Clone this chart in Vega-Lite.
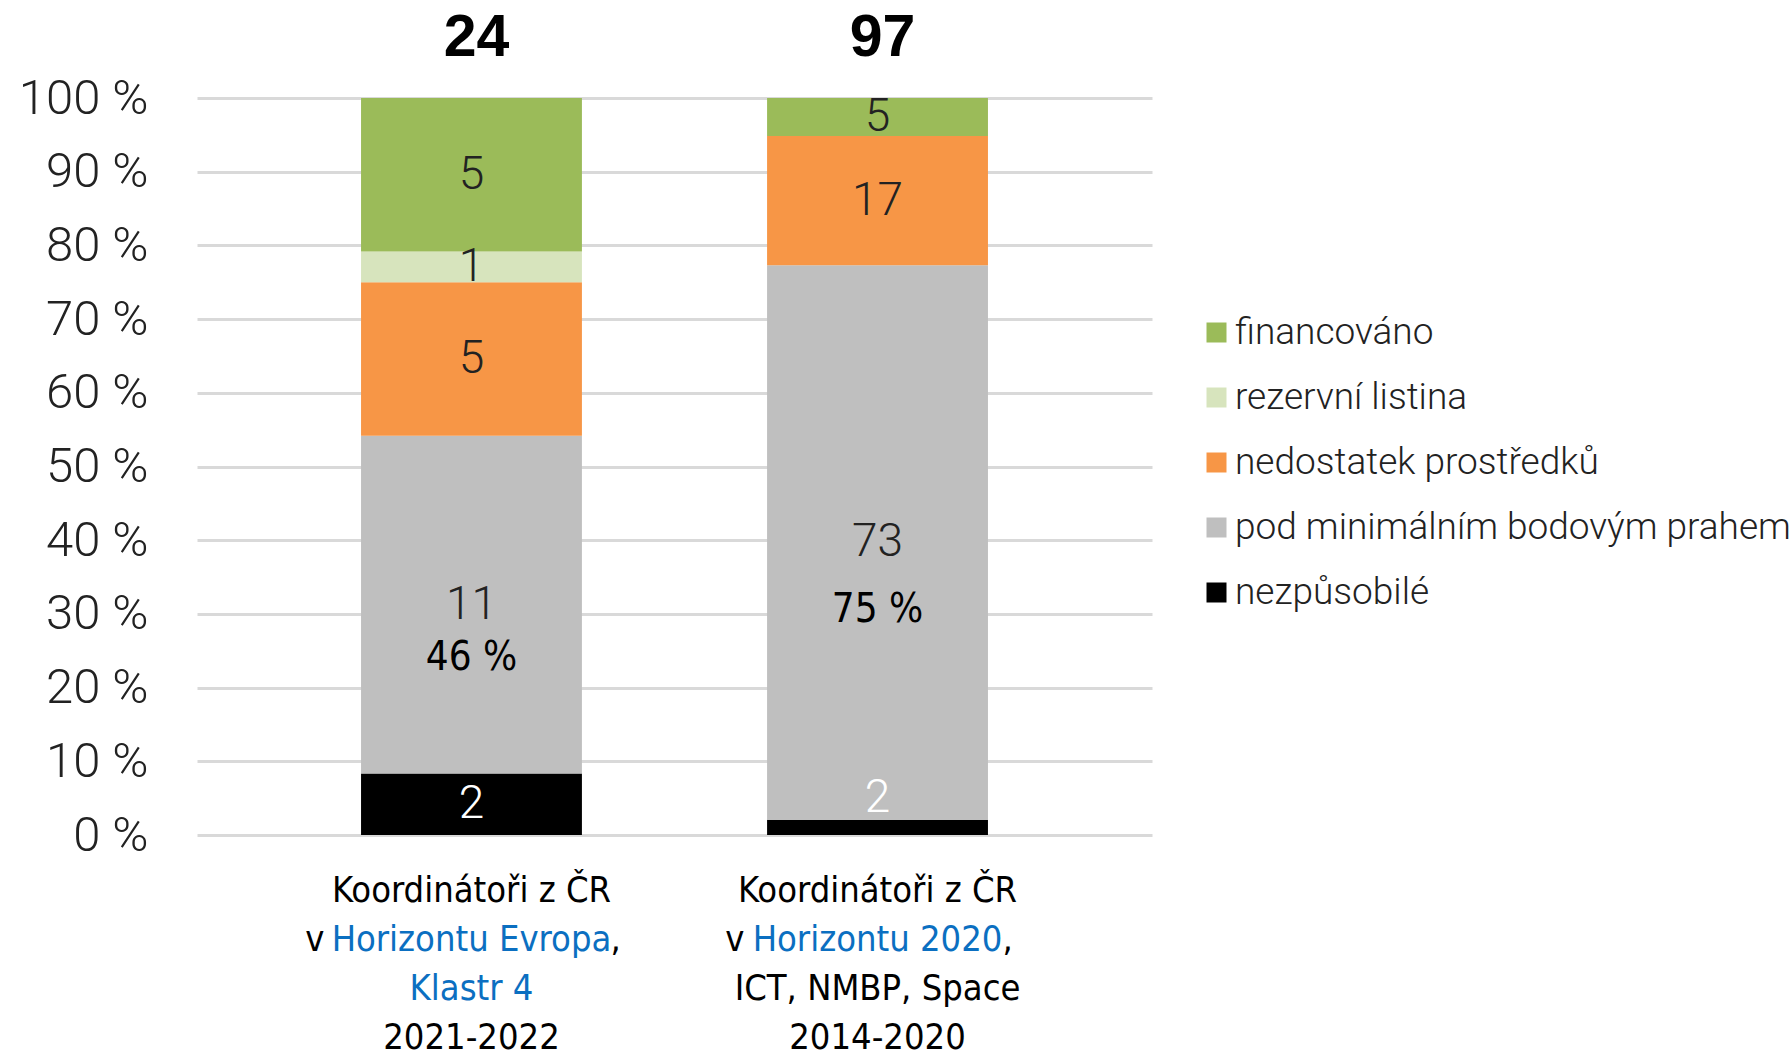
{
  "$schema": "https://vega.github.io/schema/vega-lite/v6.json",
  "background": "white",
  "padding": {"left": 18, "top": 9, "right": 0, "bottom": 0},
  "spacing": 6,
  "config": {"view": {"stroke": null}, "font": "Roboto"},
  "datasets": {
    "stav": [
      {"program": "Horizont Evropa, Klastr 4", "stav": "nezpůsobilé", "poradi": 1, "n": 2, "podil": ""},
      {"program": "Horizont Evropa, Klastr 4", "stav": "pod minimálním bodovým prahem", "poradi": 2, "n": 11, "podil": "46 %"},
      {"program": "Horizont Evropa, Klastr 4", "stav": "nedostatek prostředků", "poradi": 3, "n": 5, "podil": ""},
      {"program": "Horizont Evropa, Klastr 4", "stav": "rezervní listina", "poradi": 4, "n": 1, "podil": ""},
      {"program": "Horizont Evropa, Klastr 4", "stav": "financováno", "poradi": 5, "n": 5, "podil": ""},
      {"program": "Horizont 2020, ICT, NMBP, Space", "stav": "nezpůsobilé", "poradi": 1, "n": 2, "podil": ""},
      {"program": "Horizont 2020, ICT, NMBP, Space", "stav": "pod minimálním bodovým prahem", "poradi": 2, "n": 73, "podil": "75 %"},
      {"program": "Horizont 2020, ICT, NMBP, Space", "stav": "nedostatek prostředků", "poradi": 3, "n": 17, "podil": ""},
      {"program": "Horizont 2020, ICT, NMBP, Space", "stav": "financováno", "poradi": 5, "n": 5, "podil": ""}
    ],
    "popisky": [
      {"program": "Horizont Evropa, Klastr 4", "radek": 1, "cast": "stred", "modre": false, "text": "Koordinátoři z ČR"},
      {"program": "Horizont Evropa, Klastr 4", "radek": 2, "cast": "pred", "modre": false, "text": "v"},
      {"program": "Horizont Evropa, Klastr 4", "radek": 2, "cast": "stred", "modre": true, "text": "Horizontu Evropa"},
      {"program": "Horizont Evropa, Klastr 4", "radek": 2, "cast": "po", "modre": false, "text": ","},
      {"program": "Horizont Evropa, Klastr 4", "radek": 3, "cast": "stred", "modre": true, "text": "Klastr 4"},
      {"program": "Horizont Evropa, Klastr 4", "radek": 4, "cast": "stred", "modre": false, "text": "2021-2022"},
      {"program": "Horizont 2020, ICT, NMBP, Space", "radek": 1, "cast": "stred", "modre": false, "text": "Koordinátoři z ČR"},
      {"program": "Horizont 2020, ICT, NMBP, Space", "radek": 2, "cast": "pred", "modre": false, "text": "v"},
      {"program": "Horizont 2020, ICT, NMBP, Space", "radek": 2, "cast": "stred", "modre": true, "text": "Horizontu 2020"},
      {"program": "Horizont 2020, ICT, NMBP, Space", "radek": 2, "cast": "po", "modre": false, "text": ","},
      {"program": "Horizont 2020, ICT, NMBP, Space", "radek": 3, "cast": "stred", "modre": false, "text": "ICT, NMBP, Space"},
      {"program": "Horizont 2020, ICT, NMBP, Space", "radek": 4, "cast": "stred", "modre": false, "text": "2014-2020"}
    ]
  },
  "vconcat": [
    {
      "width": 955,
      "height": 737,
      "data": {"name": "stav"},
      "encoding": {
        "x": {"field": "program", "type": "nominal", "sort": null, "axis": null,
              "scale": {"type": "band", "paddingInner": 0.456, "paddingOuter": 0.404}}
      },
      "layer": [
        {
          "mark": {"type": "bar"},
          "encoding": {
            "y": {"field": "n", "type": "quantitative", "stack": "normalize",
                  "scale": {"domain": [0, 1], "nice": false},
                  "axis": {"title": null, "values": [0, 0.1, 0.2, 0.3, 0.4, 0.5, 0.6, 0.7, 0.8, 0.9, 1],
                           "labelExpr": "round(datum.value*100) + ' %'", "domain": false, "ticks": false,
                           "labelPadding": 49, "labelFont": "Roboto", "labelFontWeight": 300, "labelFontSize": 49,
                           "labelColor": "#222222", "gridColor": "#d9d9d9", "gridWidth": 3}},
            "color": {"field": "stav", "type": "nominal",
                      "scale": {"domain": ["financováno", "rezervní listina", "nedostatek prostředků", "pod minimálním bodovým prahem", "nezpůsobilé"],
                                "range": ["#9bbb59", "#d7e4bd", "#f79646", "#bfbfbf", "#000000"]},
                      "legend": {"orient": "none", "legendX": 1001, "legendY": 216, "title": null, "symbolType": "square",
                                 "symbolSize": 400, "symbolStrokeWidth": 0, "labelFont": "Roboto", "labelFontWeight": 300,
                                 "labelFontSize": 37, "labelColor": "#222222", "rowPadding": 27, "labelOffset": 0, "labelLimit": 800, "padding": 0}},
            "order": {"field": "poradi", "type": "quantitative"}
          }
        },
        {
          "mark": {"type": "text", "font": "Roboto", "fontWeight": 300, "fontSize": 46, "baseline": "middle"},
          "encoding": {
            "y": {"field": "n", "type": "quantitative", "stack": "normalize", "bandPosition": 0.5},
            "detail": {"field": "stav"},
            "order": {"field": "poradi", "type": "quantitative"},
            "text": {"field": "n", "type": "quantitative"},
            "color": {"condition": {"test": "datum.stav === 'nezpůsobilé'", "value": "#ffffff"}, "value": "#222222"},
            "opacity": {"condition": {"test": "datum.stav === 'nezpůsobilé' && datum.program === 'Horizont 2020, ICT, NMBP, Space'", "value": 0}, "value": 1}
          }
        },
        {
          "mark": {"type": "text", "font": "Roboto", "fontWeight": 300, "fontSize": 46, "baseline": "middle", "dy": -29, "color": "#ffffff"},
          "encoding": {
            "y": {"field": "n", "type": "quantitative", "stack": "normalize", "bandPosition": 0.5},
            "detail": {"field": "stav"},
            "order": {"field": "poradi", "type": "quantitative"},
            "text": {"field": "n", "type": "quantitative"},
            "opacity": {"condition": {"test": "datum.stav === 'nezpůsobilé' && datum.program === 'Horizont 2020, ICT, NMBP, Space'", "value": 1}, "value": 0}
          }
        },
        {
          "mark": {"type": "text", "font": "DejaVu Sans Condensed, sans-serif", "fontSize": 40, "baseline": "middle", "color": "#000000",
                   "dy": {"expr": "datum.podil === '' ? 0 : (datum.program === 'Horizont Evropa, Klastr 4' ? 53 : 68)"}},
          "encoding": {
            "y": {"field": "n", "type": "quantitative", "stack": "normalize", "bandPosition": 0.5},
            "detail": {"field": "stav"},
            "order": {"field": "poradi", "type": "quantitative"},
            "text": {"field": "podil", "type": "nominal"}
          }
        },
        {
          "transform": [{"aggregate": [{"op": "sum", "field": "n", "as": "celkem"}], "groupby": ["program"]}],
          "mark": {"type": "text", "font": "Liberation Sans", "fontWeight": "bold", "fontSize": 59, "baseline": "middle", "dy": -60, "dx": 5, "color": "#000000"},
          "encoding": {
            "y": {"datum": 1, "type": "quantitative"},
            "text": {"field": "celkem", "type": "quantitative"}
          }
        }
      ]
    },
    {
      "width": 955,
      "height": 196,
      "data": {"name": "popisky"},
      "encoding": {
        "x": {"field": "program", "type": "nominal", "sort": null, "axis": null,
              "scale": {"type": "band", "paddingInner": 0.456, "paddingOuter": 0.404}},
        "y": {"field": "radek", "type": "ordinal", "axis": null, "scale": {"padding": 0.5}}
      },
      "layer": [
        {
          "transform": [{"filter": "datum.cast === 'stred'"}],
          "mark": {"type": "text", "font": "DejaVu Sans Condensed, sans-serif", "fontSize": 36, "baseline": "middle"},
          "encoding": {
            "text": {"field": "text", "type": "nominal"},
            "color": {"condition": {"test": "datum.modre", "value": "#0b6fc1"}, "value": "#000000"}
          }
        },
        {
          "transform": [{"filter": "datum.cast === 'pred' && datum.program === 'Horizont Evropa, Klastr 4'"}],
          "mark": {"type": "text", "font": "DejaVu Sans Condensed, sans-serif", "fontSize": 36, "baseline": "middle", "align": "right", "dx": -147, "color": "#000000"},
          "encoding": {"text": {"field": "text", "type": "nominal"}}
        },
        {
          "transform": [{"filter": "datum.cast === 'pred' && datum.program === 'Horizont 2020, ICT, NMBP, Space'"}],
          "mark": {"type": "text", "font": "DejaVu Sans Condensed, sans-serif", "fontSize": 36, "baseline": "middle", "align": "right", "dx": -133, "color": "#000000"},
          "encoding": {"text": {"field": "text", "type": "nominal"}}
        },
        {
          "transform": [{"filter": "datum.cast === 'po' && datum.program === 'Horizont Evropa, Klastr 4'"}],
          "mark": {"type": "text", "font": "DejaVu Sans Condensed, sans-serif", "fontSize": 36, "baseline": "middle", "align": "left", "dx": 139, "color": "#000000"},
          "encoding": {"text": {"field": "text", "type": "nominal"}}
        },
        {
          "transform": [{"filter": "datum.cast === 'po' && datum.program === 'Horizont 2020, ICT, NMBP, Space'"}],
          "mark": {"type": "text", "font": "DejaVu Sans Condensed, sans-serif", "fontSize": 36, "baseline": "middle", "align": "left", "dx": 125, "color": "#000000"},
          "encoding": {"text": {"field": "text", "type": "nominal"}}
        }
      ]
    }
  ]
}
